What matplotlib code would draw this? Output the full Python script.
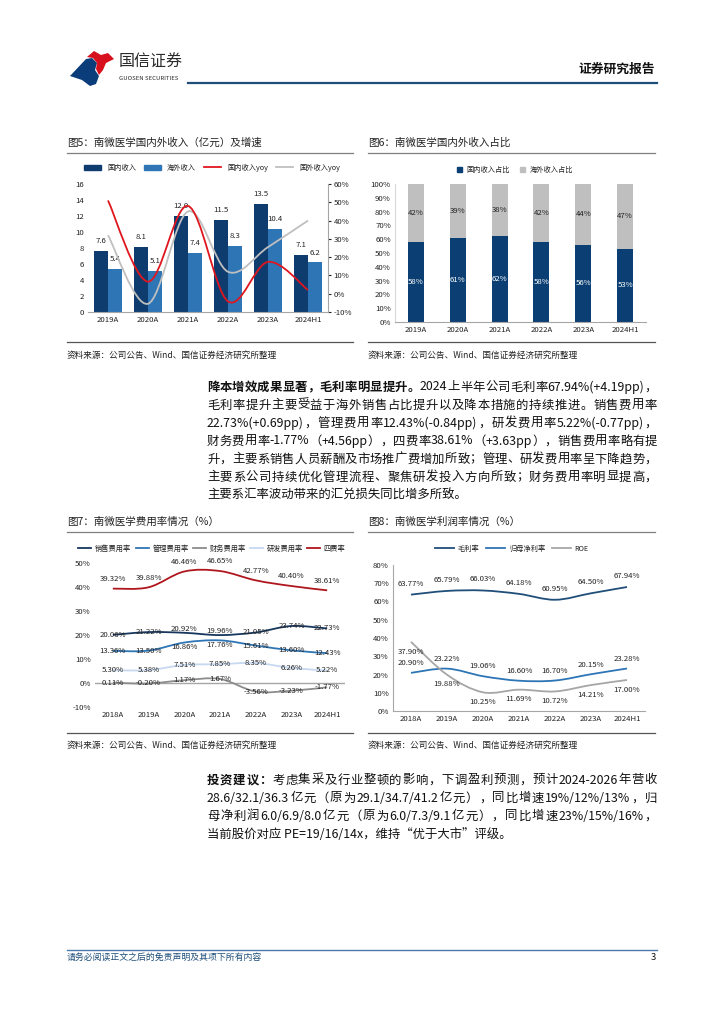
import re
import matplotlib
matplotlib.use("Agg")
import matplotlib.pyplot as plt
from matplotlib.path import Path
from matplotlib.patches import PathPatch, Polygon, Patch
from matplotlib.lines import Line2D
from matplotlib.ticker import FuncFormatter

plt.rcParams['font.family'] = ['Noto Sans CJK SC', 'DejaVu Sans']
plt.rcParams['axes.unicode_minus'] = False

# ---------------- data ----------------
years5 = ['2019A', '2020A', '2021A', '2022A', '2023A', '2024H1']
domestic_rev = [7.6, 8.1, 12.0, 11.5, 13.5, 7.1]
overseas_rev = [5.4, 5.1, 7.4, 8.3, 10.4, 6.2]
domestic_yoy = [51, 6.6, 48, -4.2, 17.4, 2]
overseas_yoy = [32, -5.5, 45, 12, 25.5, 40]

years6 = ['2019A', '2020A', '2021A', '2022A', '2023A', '2024H1']
domestic_share = [58, 61, 62, 58, 56, 53]
overseas_share = [42, 39, 38, 42, 44, 47]

years7 = ['2018A', '2019A', '2020A', '2021A', '2022A', '2023A', '2024H1']
sales_rate = [20.06, 21.22, 20.92, 19.96, 21.05, 23.74, 22.73]
admin_rate = [13.36, 13.50, 16.86, 17.76, 15.61, 13.60, 12.43]
fin_rate = [0.11, -0.20, 1.17, 1.67, -3.56, -3.23, -1.77]
rd_rate = [5.30, 5.38, 7.51, 7.85, 8.35, 6.26, 5.22]
total_rate = [39.32, 39.88, 46.46, 46.65, 42.77, 40.40, 38.61]

years8 = ['2018A', '2019A', '2020A', '2021A', '2022A', '2023A', '2024H1']
gross_margin = [63.77, 65.79, 66.03, 64.18, 60.95, 64.50, 67.94]
net_margin = [20.90, 23.22, 19.06, 16.60, 16.70, 20.15, 23.28]
roe = [37.90, 19.88, 10.25, 11.69, 10.72, 14.21, 17.00]

# ---------------- helpers ----------------
W, H = 724, 1024
fig = plt.figure(figsize=(W / 100, H / 100), dpi=100)
fig.patch.set_facecolor('white')
renderer = fig.canvas.get_renderer()


def box(l, t, r, b):
    return [l / W, 1 - b / H, (r - l) / W, (b - t) / H]


def T(x, y, s, **kw):
    kw.setdefault('va', 'center')
    return fig.text(x / W, 1 - y / H, s, **kw)


def hline(x0, x1, y, color, lw):
    fig.add_artist(Line2D([x0 / W, x1 / W], [1 - y / H, 1 - y / H],
                          color=color, lw=lw, transform=fig.transFigure))


def poly(pts, color):
    fig.add_artist(Polygon([(x / W, 1 - y / H) for x, y in pts], closed=True,
                           facecolor=color, edgecolor='none',
                           transform=fig.transFigure))


def measure(s, **kw):
    t = fig.text(0, 0, s, **kw)
    w = t.get_window_extent(renderer).width
    t.remove()
    return w


def tokens(s):
    return [t for t in re.findall(r'[\x21-\x7e]+|[^\x00-\x7f]', s)]


def justify(x0, x1, y, segments, fontsize, color='#111111', full=True):
    """segments: list of (text, weight). Distribute extra space between tokens."""
    toks = []
    for text, weight in segments:
        for t in tokens(text):
            toks.append((t, weight))
    widths = [measure(t, fontsize=fontsize, weight=w) for t, w in toks]
    total = sum(widths)
    n = len(toks)
    if full and n > 1:
        gap = (x1 - x0 - total) / (n - 1)
    else:
        gap = fontsize * 100 / 72 * 0.05
    x = x0
    for (t, w), wd in zip(toks, widths):
        T(x, y, t, fontsize=fontsize, weight=w, color=color)
        x += wd + gap


def smooth(ax, x, y, color, lw=1.2, z=3):
    n = len(x)
    verts = [(x[0], y[0])]
    codes = [Path.MOVETO]
    for i in range(n - 1):
        p0 = (x[i - 1], y[i - 1]) if i > 0 else (x[i], y[i])
        p1 = (x[i], y[i])
        p2 = (x[i + 1], y[i + 1])
        p3 = (x[i + 2], y[i + 2]) if i + 2 < n else p2
        c1 = (p1[0] + (p2[0] - p0[0]) / 6, p1[1] + (p2[1] - p0[1]) / 6)
        c2 = (p2[0] - (p3[0] - p1[0]) / 6, p2[1] - (p3[1] - p1[1]) / 6)
        verts += [c1, c2, p2]
        codes += [Path.CURVE4] * 3
    ax.add_patch(PathPatch(Path(verts, codes), fill=False, edgecolor=color,
                           lw=lw, zorder=z, capstyle='butt'))


TXT = '#222222'
GRID = '#a6a6a6'
LBL = 5.6

# ---------------- header ----------------
poly([(70, 76), (86, 59), (92, 58), (97, 63), (95, 70), (99, 76), (96, 84), (90, 86), (82, 80)], '#0b3d7a')
poly([(87, 57), (94, 51), (101, 55), (108, 53), (114, 59), (106, 63), (103, 70), (99, 75), (96, 69), (97, 63), (93, 58)], '#d6101c')
T(119, 62, '国信证券', fontsize=11.5, color='#2a2a2a')
T(119, 78, 'GUOSEN SECURITIES', fontsize=4.3, color='#2a2a2a')
T(655, 69, '证券研究报告', fontsize=9.2, weight='bold', ha='right', color='#111111')
hline(188, 657, 83, '#1f4e79', 1.6)


# ---------------- figure titles / sources ----------------
def panel_frame(x0, x1, ytitle, title, yrule, ysrc):
    T(x0, ytitle, title, fontsize=7.6, color=TXT)
    hline(x0, x1, ytitle + 10, '#7f7f7f', 0.9)
    hline(x0, x1, yrule, '#555555', 0.9)
    T(x0, ysrc, '资料来源：公司公告、Wind、国信证券经济研究所整理', fontsize=6.2, color=TXT)


panel_frame(67, 353, 143, '图5：南微医学国内外收入（亿元）及增速', 342, 355)
panel_frame(368, 655, 143, '图6：南微医学国内外收入占比', 342, 355)
panel_frame(67, 353, 522, '图7：南微医学费用率情况（%）', 733, 745)
panel_frame(368, 655, 522, '图8：南微医学利润率情况（%）', 733, 745)

LEG = dict(frameon=False, fontsize=5.2, labelcolor=TXT, loc='center')

# ---------------- chart 5 ----------------
ax5 = fig.add_axes(box(88, 184, 328, 312))
x5 = list(range(len(years5)))
bw = 0.35
c_dark, c_light = '#0f3c6e', '#2e75b6'
ax5.bar([i - bw / 2 for i in x5], domestic_rev, bw, color=c_dark, zorder=2)
ax5.bar([i + bw / 2 for i in x5], overseas_rev, bw, color=c_light, zorder=2)
for i in x5:
    ax5.annotate(f'{domestic_rev[i]:.1f}', (i - bw / 2, domestic_rev[i]), xytext=(0, 7),
                 textcoords='offset points', ha='center', va='center', fontsize=LBL, color=TXT)
    ax5.annotate(f'{overseas_rev[i]:.1f}', (i + bw / 2, overseas_rev[i]), xytext=(0, 7),
                 textcoords='offset points', ha='center', va='center', fontsize=LBL, color=TXT)
ax5.set_xlim(-0.5, len(years5) - 0.5)
ax5.set_ylim(0, 16)
ax5.set_yticks(range(0, 17, 2))
ax5.set_xticks(x5)
ax5.set_xticklabels(years5)
ax5.tick_params(axis='both', labelsize=LBL, colors=TXT, length=0, pad=3)
for s in ['top', 'left', 'right']:
    ax5.spines[s].set_visible(False)
ax5.spines['bottom'].set_color(GRID)
ax5b = ax5.twinx()
ax5b.set_ylim(-10, 60)
ax5b.set_yticks(range(-10, 61, 10))
ax5b.yaxis.set_major_formatter(FuncFormatter(lambda v, p: f'{v:.0f}%'))
ax5b.tick_params(axis='y', labelsize=LBL, colors=TXT, length=2, pad=2)
for s in ['top', 'left', 'bottom']:
    ax5b.spines[s].set_visible(False)
ax5b.spines['right'].set_color(GRID)
smooth(ax5b, x5, overseas_yoy, '#bfbfbf', 1.3)
smooth(ax5b, x5, domestic_yoy, '#e0161e', 1.3)
h5 = [Patch(color=c_dark), Patch(color=c_light),
      Line2D([], [], color='#e0161e', lw=1.3), Line2D([], [], color='#bfbfbf', lw=1.3)]
fig.legend(h5, ['国内收入', '海外收入', '国内收入yoy', '国外收入yoy'],
           bbox_to_anchor=(212 / W, 1 - 168 / H), ncol=4, handlelength=2.4,
           handleheight=0.8, columnspacing=1.1, handletextpad=0.8, **LEG)

# ---------------- chart 6 ----------------
ax6 = fig.add_axes(box(395, 184, 646, 322))
x6 = list(range(len(years6)))
c_navy = '#0b3f73'
ax6.bar(x6, domestic_share, 0.38, color=c_navy, zorder=2)
ax6.bar(x6, overseas_share, 0.38, bottom=domestic_share, color='#bfbfbf', zorder=2)
for i in x6:
    ax6.text(i, domestic_share[i] / 2, f'{domestic_share[i]}%', ha='center', va='center',
             fontsize=LBL, color='white')
    ax6.text(i, domestic_share[i] + overseas_share[i] / 2, f'{overseas_share[i]}%',
             ha='center', va='center', fontsize=LBL, color=TXT)
ax6.set_xlim(-0.5, len(years6) - 0.5)
ax6.set_ylim(0, 100)
ax6.set_yticks(range(0, 101, 10))
ax6.yaxis.set_major_formatter(FuncFormatter(lambda v, p: f'{v:.0f}%'))
ax6.set_xticks(x6)
ax6.set_xticklabels(years6)
ax6.tick_params(axis='both', labelsize=LBL, colors=TXT, length=0, pad=3)
for s in ['top', 'right']:
    ax6.spines[s].set_visible(False)
ax6.spines['bottom'].set_color(GRID)
ax6.spines['left'].set_color('#d9d9d9')
fig.legend([Patch(color=c_navy), Patch(color='#bfbfbf')], ['国内收入占比', '海外收入占比'],
           bbox_to_anchor=(515 / W, 1 - 170 / H), ncol=2, handlelength=0.7,
           handleheight=0.7, columnspacing=1.5, handletextpad=0.6, **LEG)

# ---------------- chart 7 ----------------
ax7 = fig.add_axes(box(95, 563, 345, 707))
x7 = list(range(len(years7)))
c_sales, c_admin, c_fin, c_rd, c_tot = '#17375e', '#2e75b6', '#8c8c8c', '#c6d9f1', '#b0161e'
ax7.axhline(0, color='#a6a6a6', lw=1.0, zorder=1)
smooth(ax7, x7, total_rate, c_tot, 1.3)
smooth(ax7, x7, sales_rate, c_sales, 1.3)
smooth(ax7, x7, admin_rate, c_admin, 1.3)
smooth(ax7, x7, rd_rate, c_rd, 1.3)
smooth(ax7, x7, fin_rate, c_fin, 1.3)
for i in x7:
    ax7.annotate(f'{total_rate[i]:.2f}%', (i, total_rate[i]), xytext=(0, 7),
                 textcoords='offset points', ha='center', va='center', fontsize=LBL, color=TXT)
    s_off = 3 if i in (2, 3) else 0
    a_off = -3 if i in (2, 3) else 0
    ax7.annotate(f'{sales_rate[i]:.2f}%', (i, sales_rate[i]), xytext=(0, s_off),
                 textcoords='offset points', ha='center', va='center', fontsize=LBL, color=TXT, zorder=5)
    ax7.annotate(f'{admin_rate[i]:.2f}%', (i, admin_rate[i]), xytext=(0, a_off),
                 textcoords='offset points', ha='center', va='center', fontsize=LBL, color=TXT, zorder=5)
    ax7.text(i, rd_rate[i], f'{rd_rate[i]:.2f}%', ha='center', va='center', fontsize=LBL, color=TXT, zorder=5)
    ax7.text(i, fin_rate[i], f'{fin_rate[i]:.2f}%', ha='center', va='center', fontsize=LBL, color=TXT, zorder=5)
ax7.set_xlim(-0.5, len(years7) - 0.5)
ax7.set_ylim(-10, 50)
ax7.set_yticks(range(-10, 51, 10))
ax7.yaxis.set_major_formatter(FuncFormatter(lambda v, p: f'{v:.0f}%'))
ax7.set_xticks(x7)
ax7.set_xticklabels(years7)
ax7.tick_params(axis='both', labelsize=LBL, colors=TXT, length=0, pad=3)
for s in ['top', 'right', 'left', 'bottom']:
    ax7.spines[s].set_visible(False)
h7 = [Line2D([], [], color=c, lw=1.3) for c in [c_sales, c_admin, c_fin, c_rd, c_tot]]
fig.legend(h7, ['销售费用率', '管理费用率', '财务费用率', '研发费用率', '四费率'],
           bbox_to_anchor=(212 / W, 1 - 549 / H), ncol=5, handlelength=1.8,
           columnspacing=0.6, handletextpad=0.5, **LEG)

# ---------------- chart 8 ----------------
ax8 = fig.add_axes(box(393, 565, 645, 711))
x8 = list(range(len(years8)))
c_g, c_n, c_r = '#1f4e79', '#2e75b6', '#a6a6a6'
smooth(ax8, x8, gross_margin, c_g, 1.3)
smooth(ax8, x8, net_margin, c_n, 1.3)
smooth(ax8, x8, roe, c_r, 1.3)
for i in x8:
    ax8.annotate(f'{gross_margin[i]:.2f}%', (i, gross_margin[i]), xytext=(0, 8),
                 textcoords='offset points', ha='center', va='center', fontsize=LBL, color=TXT)
    ax8.annotate(f'{net_margin[i]:.2f}%', (i, net_margin[i]), xytext=(0, 7),
                 textcoords='offset points', ha='center', va='center', fontsize=LBL, color=TXT)
    ax8.annotate(f'{roe[i]:.2f}%', (i, roe[i]), xytext=(0, -7),
                 textcoords='offset points', ha='center', va='center', fontsize=LBL, color=TXT)
ax8.set_xlim(-0.5, len(years8) - 0.5)
ax8.set_ylim(0, 80)
ax8.set_yticks(range(0, 81, 10))
ax8.yaxis.set_major_formatter(FuncFormatter(lambda v, p: f'{v:.0f}%'))
ax8.set_xticks(x8)
ax8.set_xticklabels(years8)
ax8.tick_params(axis='both', labelsize=LBL, colors=TXT, length=0, pad=3)
for s in ['top', 'right']:
    ax8.spines[s].set_visible(False)
ax8.spines['bottom'].set_color(GRID)
ax8.spines['left'].set_color(GRID)
h8 = [Line2D([], [], color=c, lw=1.3) for c in [c_g, c_n, c_r]]
fig.legend(h8, ['毛利率', '归母净利率', 'ROE'],
           bbox_to_anchor=(512 / W, 1 - 549 / H), ncol=3, handlelength=2.6,
           columnspacing=1.0, handletextpad=0.5, **LEG)

# ---------------- body text ----------------
BODY = 8.9
X0, X1 = 207, 657
justify(X0, X1, 387, [('降本增效成果显著，毛利率明显提升。', 'bold'),
                      ('2024 上半年公司毛利率 67.94%(+4.19pp)，', 'normal')], BODY)
para1 = [
    '毛利率提升主要受益于海外销售占比提升以及降本措施的持续推进。销售费用率',
    '22.73%(+0.69pp)，管理费用率 12.43%(-0.84pp)，研发费用率 5.22%(-0.77pp)，',
    '财务费用率-1.77%（+4.56pp），四费率 38.61%（+3.63pp），销售费用率略有提',
    '升，主要系销售人员薪酬及市场推广费增加所致；管理、研发费用率呈下降趋势，',
    '主要系公司持续优化管理流程、聚焦研发投入方向所致；财务费用率明显提高，',
]
for k, line in enumerate(para1):
    justify(X0, X1, 405 + 18 * k, [(line, 'normal')], BODY)
T(X0, 405 + 18 * 5, '主要系汇率波动带来的汇兑损失同比增多所致。', fontsize=BODY, color='#111111')

justify(X0, X1, 780, [('投资建议：', 'bold'),
                      ('考虑集采及行业整顿的影响，下调盈利预测，预计 2024-2026 年营收', 'normal')], BODY)
para2 = [
    '28.6/32.1/36.3 亿元（原为 29.1/34.7/41.2 亿元），同比增速 19%/12%/13%，归',
    '母净利润 6.0/6.9/8.0 亿元（原为 6.0/7.3/9.1 亿元），同比增速 23%/15%/16%，',
]
for k, line in enumerate(para2):
    justify(X0, X1, 798 + 18 * k, [(line, 'normal')], BODY)
T(X0, 834, '当前股价对应 PE=19/16/14x，维持“优于大市”评级。', fontsize=BODY, color='#111111')

# ---------------- footer ----------------
hline(67, 657, 950, '#4a7ab0', 1.0)
T(67, 957, '请务必阅读正文之后的免责声明及其项下所有内容', fontsize=6.4, style='italic', color='#1f4e79')
T(656, 958, '3', fontsize=6.8, ha='right', color='#111111')

fig.savefig('out.png', dpi=100, facecolor='white')
